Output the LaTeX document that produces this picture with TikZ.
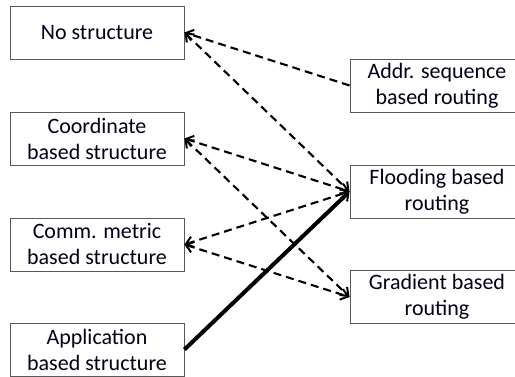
\documentclass[tikz,border=0pt]{standalone}
\usepackage{fontspec}
\setmainfont{Carlito}
\usetikzlibrary{arrows.meta}
\begin{document}
\begin{tikzpicture}[x=1pt,y=-1pt,
  box/.style={draw=black!65, line width=0.9pt, minimum width=174pt, minimum height=53pt,
    align=center, inner sep=0pt, text=black!90!blue, font=\fontsize{22}{26}\selectfont},
  link/.style={dash pattern=on 8pt off 5pt, line width=2.1pt},
  tipend/.style={-{Straight Barb[length=7pt,width=11pt,line width=2pt]}},
  tipboth/.style={{Straight Barb[length=7pt,width=11pt,line width=2pt]}-{Straight Barb[length=7pt,width=11pt,line width=2pt]}},
  strong/.style={line width=4pt, -{Straight Barb[length=7pt,width=11pt,line width=2pt]}}
]
\useasboundingbox (0,0) rectangle (515,376);
\node[box] (ns) at (97,32.5) {No structure};
\node[box] (cb) at (97,138.5) {Coordinate\\based structure};
\node[box] (cm) at (97,244.5) {Comm. metric\\based structure};
\node[box] (ab) at (97,349.5) {Application\\based structure};
\node[box] (ad) at (437,85.5) {Addr. sequence\\based routing};
\node[box] (fl) at (437,191.5) {Flooding based\\routing};
\node[box] (gr) at (437,297) {Gradient based\\routing};
\draw[link,tipend] (ad.west) -- (ns.east);
\draw[link,tipboth] (ns.east) -- (fl.west);
\draw[link,tipboth] (cb.east) -- (fl.west);
\draw[link,tipboth] (cb.east) -- (gr.west);
\draw[link,tipboth] (cm.east) -- (fl.west);
\draw[link,tipboth] (cm.east) -- (gr.west);
\draw[strong] (ab.east) -- (fl.west);
\end{tikzpicture}
\end{document}
